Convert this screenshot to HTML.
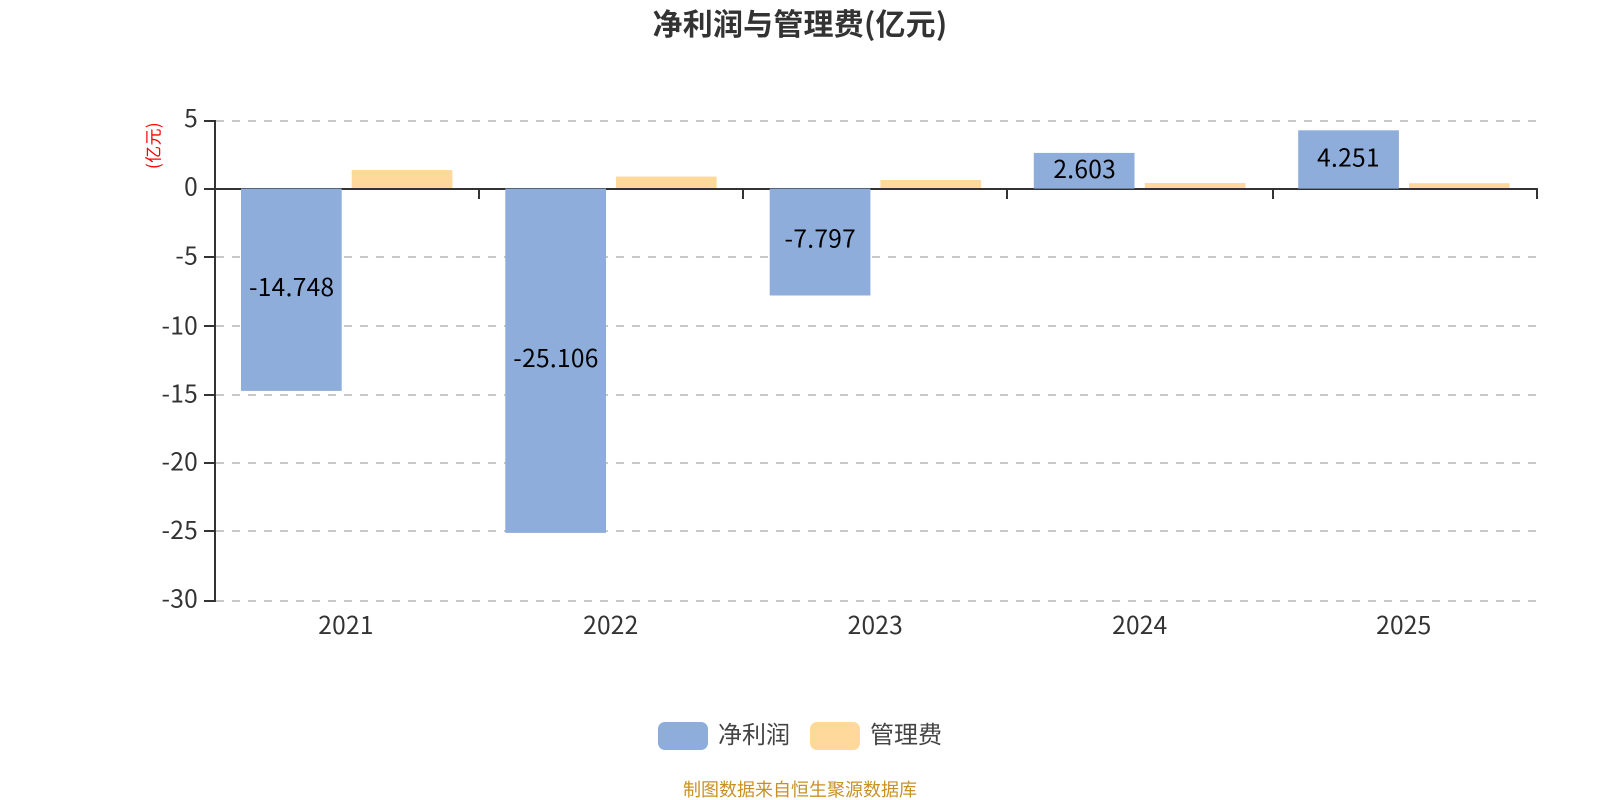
<!DOCTYPE html>
<html lang="zh">
<head>
<meta charset="utf-8">
<style>
html,body{margin:0;padding:0;background:#fff}
svg{display:block}
text{font-family:"Noto Sans CJK SC","Liberation Sans",sans-serif}
</style>
</head>
<body>
<svg width="1600" height="800" viewBox="0 0 1600 800" xmlns="http://www.w3.org/2000/svg">
<rect width="1600" height="800" fill="#fff"/>
<text x="800" y="35" font-size="30" font-weight="700" fill="#333" text-anchor="middle" letter-spacing="0.2">净利润与管理费(亿元)</text>

<g stroke="#c8c8c8" stroke-width="2" stroke-dasharray="8 8" fill="none">
<line x1="216" x2="1537" y1="121" y2="121"/>
<line x1="216" x2="1537" y1="257" y2="257"/>
<line x1="216" x2="1537" y1="326" y2="326"/>
<line x1="216" x2="1537" y1="395" y2="395"/>
<line x1="216" x2="1537" y1="463" y2="463"/>
<line x1="216" x2="1537" y1="531" y2="531"/>
<line x1="216" x2="1537" y1="601" y2="601"/>
</g>

<g stroke="#333" stroke-width="2" fill="none">
<line x1="215" y1="120" x2="215" y2="602"/>
<line x1="214" y1="189" x2="1538" y2="189"/>
<line x1="204" y1="121" x2="215" y2="121"/>
<line x1="204" y1="189" x2="215" y2="189"/>
<line x1="204" y1="257" x2="215" y2="257"/>
<line x1="204" y1="326" x2="215" y2="326"/>
<line x1="204" y1="395" x2="215" y2="395"/>
<line x1="204" y1="463" x2="215" y2="463"/>
<line x1="204" y1="531" x2="215" y2="531"/>
<line x1="204" y1="601" x2="215" y2="601"/>
<line x1="479" y1="189" x2="479" y2="199"/>
<line x1="743" y1="189" x2="743" y2="199"/>
<line x1="1007" y1="189" x2="1007" y2="199"/>
<line x1="1273" y1="189" x2="1273" y2="199"/>
<line x1="1537" y1="189" x2="1537" y2="199"/>
</g>

<g fill="#8eaddb">
<rect x="241" y="188.6" width="100.7" height="202.3"/>
<rect x="505.3" y="188.6" width="100.7" height="344.3"/>
<rect x="769.7" y="188.6" width="100.7" height="106.9"/>
<rect x="1033.8" y="152.9" width="100.7" height="35.7"/>
<rect x="1298.2" y="130.3" width="100.7" height="58.3"/>
</g>
<g fill="#fed99b">
<rect x="351.7" y="170" width="100.7" height="18"/>
<rect x="616" y="176.6" width="100.7" height="11.4"/>
<rect x="880.4" y="180" width="100.7" height="8"/>
<rect x="1144.8" y="183" width="100.7" height="5"/>
<rect x="1409" y="183.2" width="100.7" height="4.8"/>
</g>

<g font-size="24.5" fill="#333" text-anchor="end" letter-spacing="0.25">
<text x="198" y="127">5</text>
<text x="198" y="195.5">0</text>
<text x="198" y="264.5">-5</text>
<text x="198" y="334.5">-10</text>
<text x="198" y="402.5">-15</text>
<text x="198" y="470.5">-20</text>
<text x="198" y="539">-25</text>
<text x="198" y="607.5">-30</text>
</g>
<g font-size="24.5" fill="#333" text-anchor="middle" letter-spacing="0.25">
<text x="346" y="634">2021</text>
<text x="610.8" y="634">2022</text>
<text x="875.3" y="634">2023</text>
<text x="1139.8" y="634">2024</text>
<text x="1403.8" y="634">2025</text>
</g>
<g font-size="24.5" fill="#000" text-anchor="middle" letter-spacing="0.3">
<text x="291.7" y="296">-14.748</text>
<text x="556" y="367">-25.106</text>
<text x="820.3" y="247.5">-7.797</text>
<text x="1084.7" y="178">2.603</text>
<text x="1348.5" y="166.5">4.251</text>
</g>

<text transform="translate(159.5,145.5) rotate(-90)" font-size="17" fill="#f00" text-anchor="middle" letter-spacing="0.4">(亿元)</text>

<rect x="658" y="722" width="50" height="28" rx="7" fill="#8eaddb"/>
<text x="718" y="743" font-size="24" fill="#444">净利润</text>
<rect x="810" y="722" width="50" height="28" rx="7" fill="#fed99b"/>
<text x="870" y="743" font-size="24" fill="#444">管理费</text>
<text x="800" y="796" font-size="18" fill="#c89124" text-anchor="middle">制图数据来自恒生聚源数据库</text>
</svg>
</body>
</html>
